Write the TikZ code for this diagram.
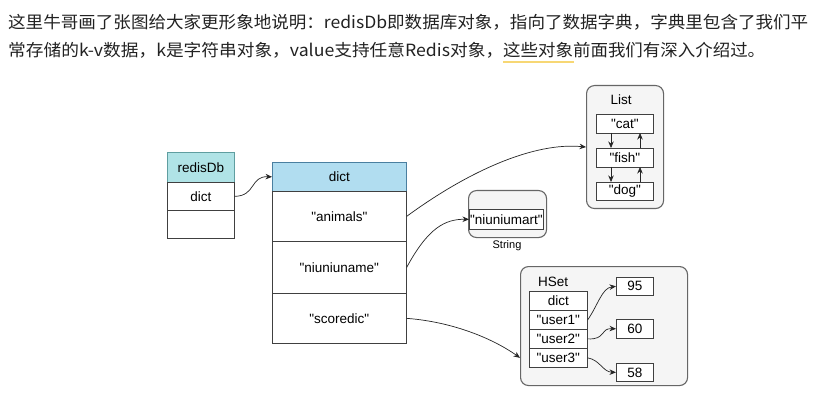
\documentclass[tikz,border=0pt]{standalone}
\usepackage{fontspec}
\setmainfont{Liberation Sans}[Ligatures=TeXOff]
\newfontfamily\cjk{Noto Sans CJK SC}
\usetikzlibrary{arrows.meta}
\definecolor{tealhead}{HTML}{B0E3E6}
\definecolor{tealdraw}{HTML}{5F9EA0}
\definecolor{bluehead}{HTML}{B1DDF0}
\definecolor{bluedraw}{HTML}{4A7FA0}
\definecolor{contfill}{HTML}{F5F5F5}
\definecolor{contdraw}{HTML}{666666}
\definecolor{ulyellow}{HTML}{F7D774}
\definecolor{txt}{HTML}{222222}
\newsavebox\fitbox
\newcommand\fitw[2]{\sbox\fitbox{#2}\pgfmathsetmacro\fitfac{#1/\the\wd\fitbox}\scalebox{\fitfac}[1]{\usebox\fitbox}}
\tikzset{
  cell/.style={draw=black!75, line width=0.7pt, fill=white, inner sep=0pt, font=\fontsize{13.5}{15}\selectfont},
  cont/.style={draw=contdraw, fill=contfill, line width=1.1pt, rounded corners=8pt},
  link/.style={-{Stealth[length=6.5pt,width=5.5pt]}, line width=0.7pt, black!85},
  para/.style={anchor=west, inner sep=0pt, text=txt, font=\cjk\fontsize{16.8}{20}\selectfont},
  lbl/.style={inner sep=0pt, font=\fontsize{13.5}{15}\selectfont}
}
\begin{document}
\begin{tikzpicture}[x=1pt,y=-1pt]
\useasboundingbox (0,0) rectangle (818,403);
\fill[white] (0,0) rectangle (818,403);
% paragraph
\node[para] (l1) at (8,22) {\fitw{800pt}{这里牛哥画了张图给大家更形象地说明：redisDb即数据库对象，指向了数据字典，字典里包含了我们平}};
\node[para] (l2a) at (8,50) {\fitw{495pt}{常存储的k-v数据，k是字符串对象，value支持任意Redis对象，}};
\node[para] (l2b) at (503,50) {\fitw{262pt}{这些对象前面我们有深入介绍过。}};
\fill[ulyellow] (503,61) rectangle (574,63);
% redisDb
\node[cell, fill=tealhead, draw=tealdraw, minimum width=67, minimum height=30, anchor=north west] (rdbh) at (167,152) {redisDb};
\node[cell, minimum width=67, minimum height=28, anchor=north west] (rdbd) at (167,182) {dict};
\node[cell, minimum width=67, minimum height=28, anchor=north west] (rdbe) at (167,210) {};
% dict
\node[cell, fill=bluehead, draw=bluedraw, minimum width=134, minimum height=29, anchor=north west] (dh) at (272,162) {dict};
\node[cell, minimum width=134, minimum height=50, anchor=north west] (da) at (272,191) {"animals"};
\node[cell, minimum width=134, minimum height=52, anchor=north west] (dn) at (272,241) {"niuniuname"};
\node[cell, minimum width=134, minimum height=50, anchor=north west] (ds) at (272,293) {"scoredic"};
% List
\node[cont, minimum width=77, minimum height=123, anchor=north west] (list) at (586,85) {};
\node[lbl] (listl) at (621,100) {List};
\node[cell, minimum width=57, minimum height=19, anchor=north west] (cat) at (596,114) {"cat"};
\node[cell, minimum width=57, minimum height=19, anchor=north west] (fish) at (596,148) {"fish"};
\node[cell, minimum width=57, minimum height=18, anchor=north west] (dog) at (596,182) {"dog"};
\coordinate (c1) at (611,133); \coordinate (f1) at (611,148);
\coordinate (c2) at (640,133); \coordinate (f2) at (640,148);
\coordinate (f3) at (611,167); \coordinate (g3) at (611,182);
\coordinate (f4) at (640,167); \coordinate (g4) at (640,182);
\draw[link] (c1) -- (f1);
\draw[link] (f2) -- (c2);
\draw[link] (f3) -- (g3);
\draw[link] (g4) -- (f4);
% String
\node[cont, minimum width=78, minimum height=47, anchor=north west] (str) at (468,190) {};
\node[cell, minimum width=74, minimum height=20, anchor=north west] (nm) at (469,209) {"niuniumart"};
\node[lbl, font=\fontsize{11}{12}\selectfont] (strl) at (507,246) {String};
% HSet
\node[cont, minimum width=167, minimum height=119, anchor=north west] (hset) at (520,266) {};
\node[lbl] (hsetl) at (553,282) {HSet};
\node[cell, minimum width=58, minimum height=19, anchor=north west] (hd) at (529,291) {dict};
\node[cell, minimum width=58, minimum height=19, anchor=north west] (u1) at (529,310) {"user1"};
\node[cell, minimum width=58, minimum height=19, anchor=north west] (u2) at (529,329) {"user2"};
\node[cell, minimum width=58, minimum height=19, anchor=north west] (u3) at (529,348) {"user3"};
\node[cell, minimum width=37, minimum height=18, anchor=north west] (v95) at (616,277) {95};
\node[cell, minimum width=37, minimum height=19, anchor=north west] (v60) at (616,319) {60};
\node[cell, minimum width=37, minimum height=18, anchor=north west] (v58) at (616,363) {58};
\coordinate (hin) at (hset.west |- u3.west);
% connectors
\draw[link] (rdbd.east) .. controls (256,196) and (250,176) .. (dh.west);
\draw[link] (da.east) .. controls (470,170) and (535,142) .. (list.west);
\draw[link] (dn.east) .. controls (428,228) and (445,219) .. (nm.west);
\draw[link] (ds.east) .. controls (455,322) and (495,340) .. (hin);
\draw[link] (u1.east) .. controls (598,305) and (602,288) .. (v95.west);
\draw[link] (u2.east) .. controls (606,340) and (600,328) .. (v60.west);
\draw[link] (u3.east) .. controls (600,360) and (603,372) .. (v58.west);
\end{tikzpicture}
\end{document}
